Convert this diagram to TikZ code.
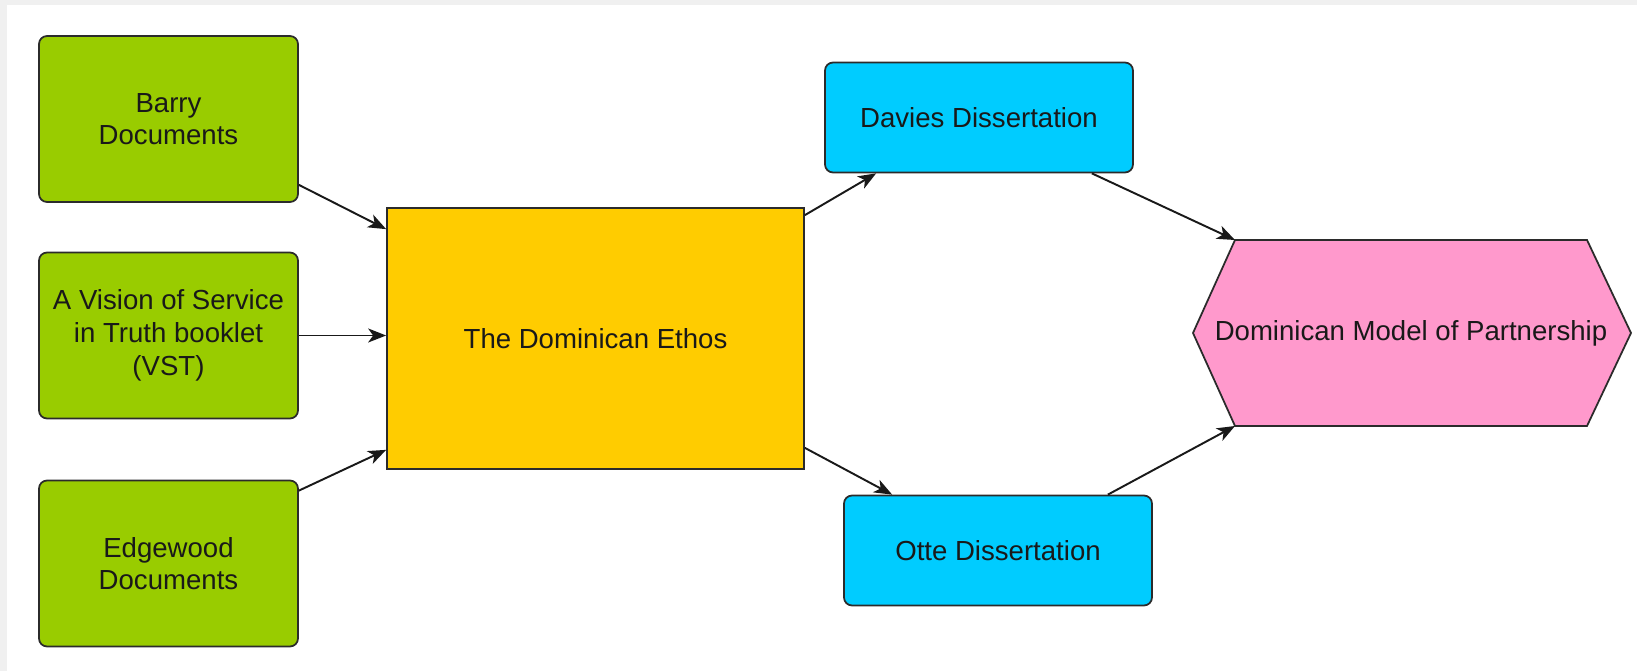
\documentclass[tikz,border=0pt]{standalone}
\usepackage{fontspec}
\setmainfont{Liberation Sans}
\usetikzlibrary{arrows.meta,backgrounds}
\definecolor{srcgreen}{HTML}{99CC00}
\definecolor{ethosyellow}{HTML}{FFCC00}
\definecolor{dissblue}{HTML}{00CCFF}
\definecolor{modelpink}{HTML}{FF99CC}
\definecolor{edgegray}{HTML}{2B2B2B}

\begin{document}
\begin{tikzpicture}[x=0.02cm,y=-0.02cm,
every node/.style={draw=edgegray, line width=1pt, align=center, text=black!90, font=\fontsize{15.7}{18.6}\selectfont},
src/.style={fill=srcgreen, rounded corners=0.16cm, minimum width=5.18cm, minimum height=3.32cm},
ethos/.style={fill=ethosyellow, minimum width=8.34cm, minimum height=5.22cm},
diss/.style={fill=dissblue, rounded corners=0.16cm, minimum width=6.16cm, minimum height=2.2cm},
model/.style={draw=none, inner sep=0pt},
link/.style={-{Stealth[length=0.36cm,width=0.28cm,inset=0.1cm]}, line width=1.1pt, black!90}
]
\useasboundingbox (0,0) rectangle (1637,671);
\begin{scope}[on background layer]
\fill[gray!12] (0,0) rectangle (1637,671);
\fill[white] (7,5) rectangle (1637,671);
\end{scope}

\node[src] at (168.5,119) (barry) {Barry\\Documents};
\node[src] at (168.5,335.5) (vst) {A Vision of Service\\in Truth booklet\\(VST)};
\node[src] at (168.5,563.5) (edgewood) {Edgewood\\Documents};
\node[ethos] at (595.5,338.5) (ethos) {The Dominican Ethos};
\node[diss] at (979,117.5) (davies) {Davies Dissertation};
\node[diss] at (998,550.5) (otte) {Otte Dissertation};
\node[model] at (1411,333) (dmp) {Dominican Model of Partnership};

% hexagon corners round the model text
\coordinate (dmpnw) at ([shift={(-176,-93)}]dmp.center);
\coordinate (dmpsw) at ([shift={(-176,93)}]dmp.center);
\begin{scope}[on background layer]
\draw[fill=modelpink, draw=edgegray, line width=1pt] (dmpnw) -- ([shift={(176,-93)}]dmp.center) -- ([shift={(220,0)}]dmp.center) -- ([shift={(176,93)}]dmp.center) -- (dmpsw) -- ([shift={(-218,0)}]dmp.center) -- cycle;
\end{scope}

\draw[link] ([yshift=0.36cm]barry.south east) -- ([yshift=-0.44cm]ethos.north west);
\draw[link] (vst.east) -- (vst.east -| ethos.west);
\draw[link] ([yshift=-0.22cm]edgewood.north east) -- ([yshift=0.4cm]ethos.south west);
\draw[link] ([yshift=-0.16cm]ethos.north east) -- ([xshift=1.04cm]davies.south west);
\draw[link] ([yshift=0.44cm]ethos.south east) -- ([xshift=0.98cm]otte.north west);
\draw[link] ([xshift=-0.84cm]davies.south east) -- (dmpnw);
\draw[link] ([xshift=-0.9cm]otte.north east) -- (dmpsw);

\end{tikzpicture}
\end{document}
